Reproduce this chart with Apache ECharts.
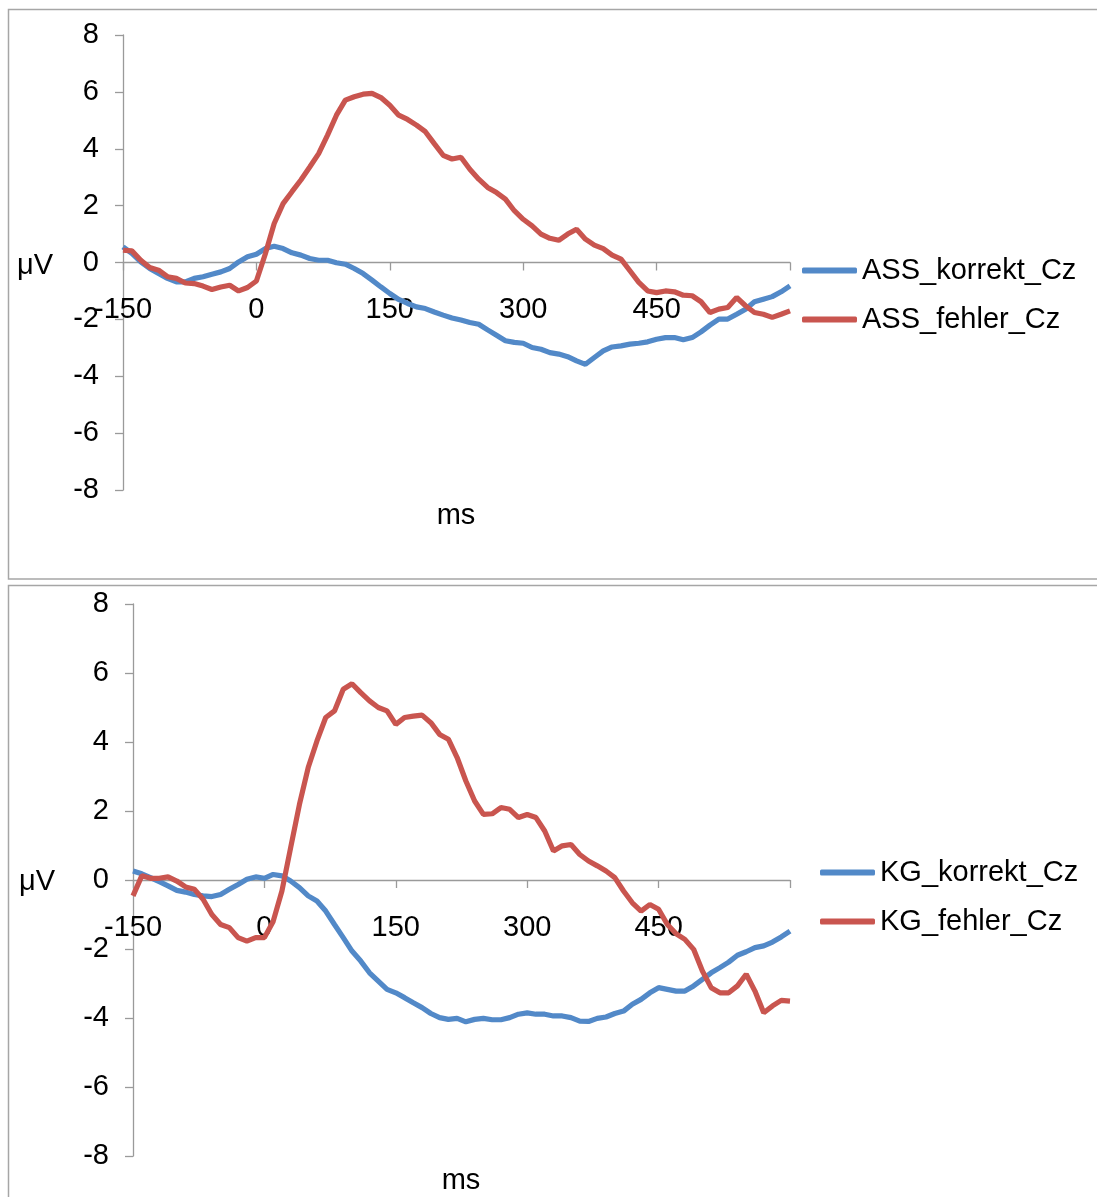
<!DOCTYPE html>
<html>
<head>
<meta charset="utf-8">
<script src="https://cdn.jsdelivr.net/npm/echarts@6/dist/echarts.min.js"></script>
<style>
html,body{margin:0;padding:0;background:#fff;}
#chart{width:1097px;height:1197px;}
</style>
</head>
<body>
<div id="chart"></div>
<script>
// time points in ms (10 ms steps)
const times = [];
for (let t = -150; t <= 600; t += 10) times.push(t);

const xTicks = [-150, 0, 150, 300, 450];

const ASS_korrekt_Cz = [
  0.55, 0.32, 0.02, -0.21, -0.39, -0.56, -0.68, -0.68, -0.56, -0.50,
  -0.41, -0.33, -0.21, 0.02, 0.20, 0.29, 0.49, 0.57, 0.49, 0.34,
  0.26, 0.14, 0.08, 0.08, -0.01, -0.06, -0.21, -0.39, -0.62, -0.86,
  -1.09, -1.30, -1.44, -1.56, -1.62, -1.74, -1.85, -1.95, -2.02, -2.11,
  -2.17, -2.37, -2.56, -2.75, -2.81, -2.84, -2.99, -3.05, -3.17, -3.22,
  -3.31, -3.46, -3.58, -3.34, -3.11, -2.97, -2.93, -2.87, -2.84, -2.79,
  -2.70, -2.64, -2.64, -2.72, -2.64, -2.44, -2.20, -1.99, -1.99, -1.82,
  -1.64, -1.38, -1.29, -1.20, -1.03, -0.82
];

const ASS_fehler_Cz = [
  0.43, 0.41, 0.08, -0.18, -0.27, -0.50, -0.56, -0.72, -0.74, -0.83,
  -0.95, -0.86, -0.80, -1.00, -0.88, -0.65, 0.30, 1.37, 2.07, 2.49,
  2.90, 3.36, 3.83, 4.48, 5.18, 5.71, 5.83, 5.92, 5.95, 5.80,
  5.53, 5.18, 5.03, 4.83, 4.60, 4.18, 3.77, 3.64, 3.70, 3.28,
  2.93, 2.64, 2.46, 2.23, 1.82, 1.52, 1.29, 1.00, 0.85, 0.78,
  1.00, 1.17, 0.82, 0.61, 0.49, 0.26, 0.12, -0.29, -0.70, -1.00,
  -1.06, -1.00, -1.03, -1.15, -1.17, -1.38, -1.76, -1.64, -1.58, -1.23,
  -1.52, -1.76, -1.82, -1.93, -1.82, -1.70
];

const KG_korrekt_Cz = [
  0.26, 0.18, 0.07, -0.05, -0.17, -0.30, -0.35, -0.42, -0.46, -0.48,
  -0.42, -0.27, -0.13, 0.02, 0.09, 0.05, 0.16, 0.12, -0.03, -0.22,
  -0.46, -0.61, -0.90, -1.29, -1.67, -2.06, -2.35, -2.69, -2.93, -3.17,
  -3.27, -3.41, -3.56, -3.70, -3.87, -3.99, -4.04, -4.01, -4.11, -4.04,
  -4.01, -4.05, -4.05, -3.99, -3.89, -3.85, -3.89, -3.89, -3.94, -3.94,
  -3.99, -4.09, -4.10, -4.01, -3.97, -3.87, -3.80, -3.60, -3.46, -3.27,
  -3.12, -3.17, -3.22, -3.22, -3.07, -2.88, -2.69, -2.54, -2.38, -2.18,
  -2.08, -1.96, -1.91, -1.80, -1.65, -1.48
];

const KG_fehler_Cz = [
  -0.46, 0.12, 0.05, 0.05, 0.09, -0.03, -0.20, -0.27, -0.56, -1.00,
  -1.29, -1.38, -1.67, -1.77, -1.67, -1.67, -1.20, -0.32, 0.94, 2.19,
  3.26, 4.03, 4.71, 4.90, 5.53, 5.69, 5.43, 5.19, 5.00, 4.90,
  4.51, 4.71, 4.75, 4.78, 4.56, 4.22, 4.08, 3.55, 2.87, 2.29,
  1.90, 1.92, 2.10, 2.05, 1.81, 1.90, 1.81, 1.42, 0.84, 0.99,
  1.03, 0.74, 0.55, 0.41, 0.26, 0.07, -0.32, -0.66, -0.90, -0.71,
  -0.85, -1.29, -1.56, -1.72, -2.01, -2.64, -3.12, -3.27, -3.27, -3.07,
  -2.73, -3.22, -3.85, -3.65, -3.49, -3.51
];

const BLUE = '#5289C8';
const RED = '#C9554F';
const AXIS = '#9A9A9A';
const FONT = 'Liberation Sans, Arial, sans-serif';
const FS = 29;

// grid geometry (pixels)
const G = [
  {left:123, top:35, width:667, height:455},
  {left:133, top:604, width:657, height:552}
];

function pairs(vals){ return times.map((t,i)=>[t, vals[i]]); }

// the x axis crosses the y axis at 0 (middle of the symmetric -8..8 range)
function xAxisFor(gi){
  return {
    type:'value', gridIndex:gi, min:-150, max:600, interval:150,
    position:'bottom', offset:-G[gi].height/2,
    axisLine:{show:true, onZero:false, lineStyle:{color:AXIS, width:1.3}},
    axisTick:{show:true, length:8, lineStyle:{color:AXIS, width:1.3}},
    splitLine:{show:false},
    axisLabel:{color:'#000', fontSize:FS, fontFamily:FONT, margin:33,
      formatter:(v)=> xTicks.indexOf(v) >= 0 ? String(v) : ''}
  };
}
function yAxisFor(gi){
  return {
    type:'value', gridIndex:gi, min:-8, max:8, interval:2,
    position:'left',
    axisLine:{show:true, onZero:false, lineStyle:{color:AXIS, width:1.3}},
    axisTick:{show:true, length:8, lineStyle:{color:AXIS, width:1.3}},
    splitLine:{show:false},
    axisLabel:{color:'#000', fontSize:FS, fontFamily:FONT, margin:24, padding:[8,0,0,0]}
  };
}
function lineSeries(name, vals, color, gi){
  return {
    name:name, type:'line', xAxisIndex:gi, yAxisIndex:gi,
    data:pairs(vals), showSymbol:false, symbol:'none', smooth:false,
    lineStyle:{color:color, width:5.2}, itemStyle:{color:color},
    animation:false
  };
}
function legendFor(names, left, top){
  return {
    data:names, orient:'vertical', left:left, top:top, padding:0,
    icon:'roundRect', itemWidth:55, itemHeight:6, itemGap:20,
    textStyle:{color:'#000', fontSize:FS, fontFamily:FONT}
  };
}

const chart = echarts.init(document.getElementById('chart'), null, {renderer:'canvas'});
chart.setOption({
  animation:false,
  backgroundColor:'#fff',
  grid:G,
  xAxis:[xAxisFor(0), xAxisFor(1)],
  yAxis:[yAxisFor(0), yAxisFor(1)],
  legend:[
    legendFor(['ASS_korrekt_Cz','ASS_fehler_Cz'], 802, 256),
    legendFor(['KG_korrekt_Cz','KG_fehler_Cz'], 820, 858)
  ],
  series:[
    lineSeries('ASS_korrekt_Cz', ASS_korrekt_Cz, BLUE, 0),
    lineSeries('ASS_fehler_Cz', ASS_fehler_Cz, RED, 0),
    lineSeries('KG_korrekt_Cz', KG_korrekt_Cz, BLUE, 1),
    lineSeries('KG_fehler_Cz', KG_fehler_Cz, RED, 1)
  ],
  graphic:[
    {type:'rect', silent:true, z:-1, shape:{x:8.5, y:9.5, width:1100, height:569.5},
      style:{fill:'none', stroke:'#A6A6A6', lineWidth:1.5}},
    {type:'rect', silent:true, z:-1, shape:{x:8.5, y:585.5, width:1100, height:700},
      style:{fill:'none', stroke:'#A6A6A6', lineWidth:1.5}},
    {type:'text', x:35, y:266, style:{text:'μV', font:FS+'px '+FONT, fill:'#000', textAlign:'center', textVerticalAlign:'middle'}},
    {type:'text', x:456, y:516, style:{text:'ms', font:FS+'px '+FONT, fill:'#000', textAlign:'center', textVerticalAlign:'middle'}},
    {type:'text', x:37, y:882, style:{text:'μV', font:FS+'px '+FONT, fill:'#000', textAlign:'center', textVerticalAlign:'middle'}},
    {type:'text', x:461, y:1181, style:{text:'ms', font:FS+'px '+FONT, fill:'#000', textAlign:'center', textVerticalAlign:'middle'}}
  ]
});
</script>
</body>
</html>
